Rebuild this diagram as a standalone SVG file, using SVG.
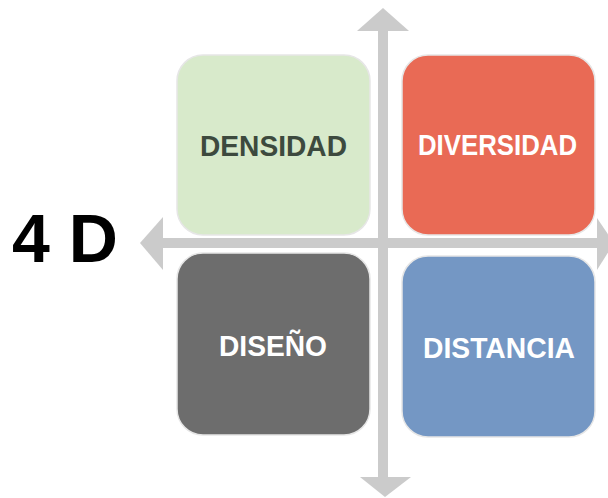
<svg xmlns="http://www.w3.org/2000/svg" width="608" height="498" viewBox="0 0 608 498">
<style>
.box{stroke:#e6e6e6;stroke-width:1.5}
.lbl{font-family:"Liberation Sans",Arial,sans-serif;font-weight:bold;font-size:29px;text-anchor:middle}
.axis{fill:#cbcbcb}
</style>
<rect width="608" height="498" fill="#ffffff"/>
<g id="connectors">
<rect class="axis" x="378" y="28" width="10" height="452"/>
<polygon class="axis" points="383,8 357,31 409,31"/>
<polygon class="axis" points="385,497 360,477 411,477"/>
<rect class="axis" x="160" y="238" width="440" height="10"/>
<polygon class="axis" points="140,243 163,217 163,270"/>
<polygon class="axis" points="614,243 597,218 597,270"/>
</g>
<g id="densidad">
<rect class="box" x="177" y="55" width="193" height="180" rx="26" fill="#d8eacb"/>
<text class="lbl" x="273.5" y="156" fill="#3d4a3e" textLength="147" lengthAdjust="spacingAndGlyphs">DENSIDAD</text>
</g>
<g id="diversidad">
<rect class="box" x="402" y="55" width="193" height="180" rx="26" fill="#e96a55"/>
<text class="lbl" x="497.5" y="155" fill="#ffffff" textLength="159" lengthAdjust="spacingAndGlyphs">DIVERSIDAD</text>
</g>
<g id="diseno">
<rect class="box" x="177" y="253" width="193" height="182" rx="26" fill="#6d6d6d"/>
<text class="lbl" x="273" y="356" fill="#ffffff" textLength="108" lengthAdjust="spacingAndGlyphs">DISEÑO</text>
</g>
<g id="distancia">
<rect class="box" x="402" y="256" width="193" height="181" rx="26" fill="#7497c4"/>
<text class="lbl" x="499" y="358" fill="#ffffff" textLength="152" lengthAdjust="spacingAndGlyphs">DISTANCIA</text>
</g>
<g id="title">
<text x="65" y="262" font-family="'Liberation Sans',Arial,sans-serif" font-weight="bold" font-size="68" text-anchor="middle" fill="#000000">4 D</text>
</g>
</svg>
